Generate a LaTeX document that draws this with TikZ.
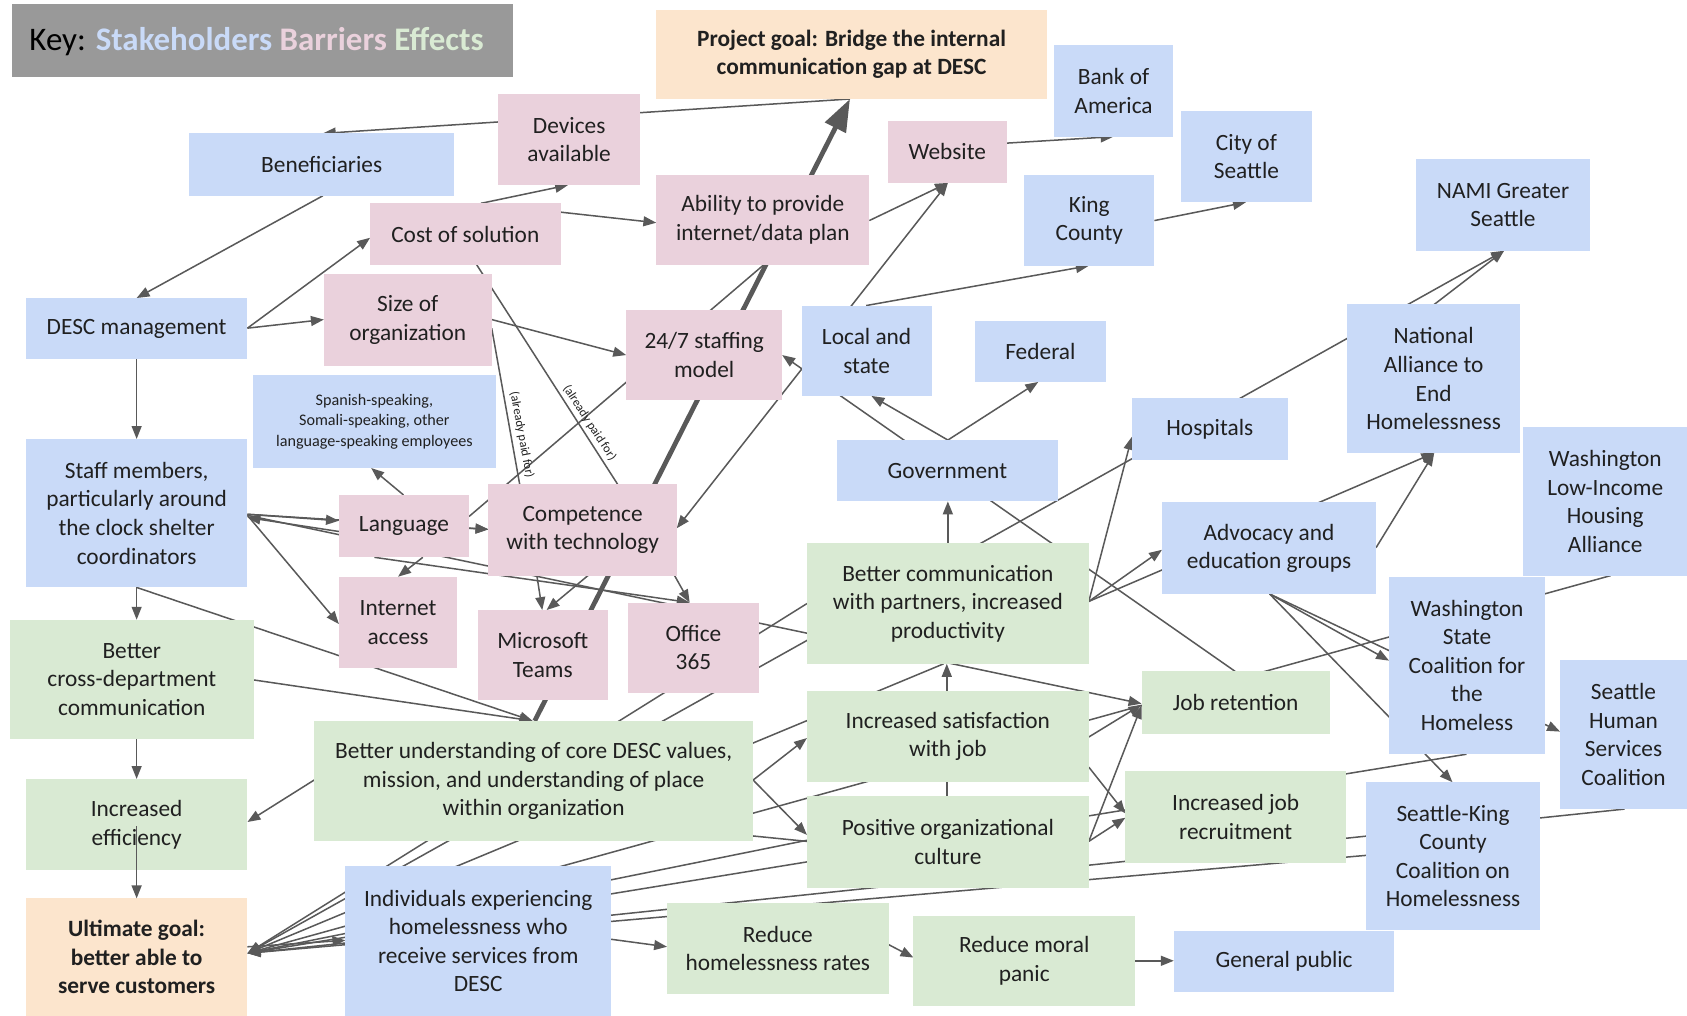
\documentclass[tikz,border=0pt]{standalone}
\usepackage{fontspec}
\setmainfont{Carlito}
\usetikzlibrary{arrows.meta,calc}
\definecolor{cblue}{HTML}{C9DAF8}
\definecolor{cpink}{HTML}{EAD1DC}
\definecolor{cgreen}{HTML}{D9EAD3}
\definecolor{cpeach}{HTML}{FCE5CD}
\definecolor{cgray}{HTML}{999999}
\definecolor{cline}{HTML}{595959}
\definecolor{ctext}{HTML}{202020}
\pgfdeclarelayer{background}
\pgfsetlayers{background,main}
\newcommand\mybox[7]{\node[#6, minimum width={(#4-#2)*0.5pt}, minimum height={(#5-#3)*0.5pt}] (#1) at ({(#2+#4)/2},{(#3+#5)/2}) {#7};}
\begin{document}
\begin{tikzpicture}[x=0.5pt,y=-0.5pt,
  box/.style={rectangle, inner sep=0pt, outer sep=0pt, align=center, text=ctext, font=\fontsize{10.85}{13.25}\selectfont},
  sh/.style={box, fill=cblue},
  br/.style={box, fill=cpink},
  ef/.style={box, fill=cgreen},
  gl/.style={box, fill=cpeach, font=\bfseries\fontsize{10.85}{13.25}\selectfont},
  ar/.style={draw=cline, line width=0.7pt, -{Triangle[length=6pt,width=4.6pt]}},
  ar2/.style={draw=cline, line width=0.7pt, {Triangle[length=6pt,width=4.6pt]}-{Triangle[length=6pt,width=4.6pt]}},
  ln/.style={draw=cline, line width=0.7pt},
  tar/.style={draw=cline, line width=2.2pt, -{Triangle[length=15pt,width=10.5pt]}},
  lbl/.style={font=\fontsize{5.8}{7}\selectfont, inner sep=0.5pt, text=ctext}]
\useasboundingbox (0,0) rectangle (1568,944);
% key
\mybox{key}{11}{4}{477}{72}{box,fill=cgray}{}
\node[anchor=west, inner sep=0pt, font=\fontsize{15.3}{18}\selectfont] (keytext) at (27,39) {Key: \textbf{\textcolor{cblue}{Stakeholders} \textcolor{cpink}{Barriers} \textcolor{cgreen}{Effects}}};
% goals
\mybox{pg}{610}{9}{973}{92}{gl}{Project goal: Bridge the internal\\communication gap at DESC}
\mybox{ug}{24}{835}{230}{944}{gl}{Ultimate goal:\\better able to\\serve customers}
% stakeholders
\mybox{ben}{176}{124}{422}{182}{sh}{Beneficiaries}
\mybox{boa}{980}{42}{1090}{127}{sh}{Bank of\\America}
\mybox{cos}{1098}{103}{1219}{188}{sh}{City of\\Seattle}
\mybox{king}{952}{163}{1073}{247}{sh}{King\\County}
\mybox{nami}{1316}{148}{1478}{233}{sh}{NAMI Greater\\Seattle}
\mybox{desc}{24}{277}{230}{334}{sh}{DESC management}
\mybox{local}{745}{284}{866}{368}{sh}{Local and\\state}
\mybox{fed}{906}{298}{1028}{355}{sh}{Federal}
\mybox{span}{235}{349}{461}{435}{sh,font=\fontsize{7.5}{9.5}\selectfont}{Spanish-speaking,\\Somali-speaking, other\\language-speaking employees}
\mybox{staff}{24}{408}{230}{546}{sh}{Staff members,\\particularly around\\the clock shelter\\coordinators}
\mybox{gov}{778}{409}{983}{466}{sh}{Government}
\mybox{hosp}{1052}{370}{1197}{428}{sh}{Hospitals}
\mybox{na}{1252}{283}{1413}{421}{sh}{National\\Alliance to\\End\\Homelessness}
\mybox{wlih}{1416}{397}{1568}{535}{sh}{Washington\\Low-Income\\Housing\\Alliance}
\mybox{adv}{1080}{467}{1279}{552}{sh}{Advocacy and\\education groups}
\mybox{wsc}{1291}{536}{1436}{701}{sh}{Washington\\State\\Coalition for\\the\\Homeless}
\mybox{shs}{1450}{613}{1568}{752}{sh}{Seattle\\Human\\Services\\Coalition}
\mybox{skc}{1270}{727}{1431}{864}{sh}{Seattle-King\\County\\Coalition on\\Homelessness}
\mybox{gp}{1091}{865}{1296}{922}{sh}{General public}
\mybox{ind}{321}{805}{568}{944}{sh}{Individuals experiencing\\homelessness who\\receive services from\\DESC}
% barriers
\mybox{dev}{463}{87}{595}{172}{br}{Devices\\available}
\mybox{cost}{344}{189}{521}{246}{br}{Cost of solution}
\mybox{abil}{610}{163}{808}{246}{br}{Ability to provide\\internet/data plan}
\mybox{web}{825}{112}{936}{170}{br}{Website}
\mybox{size}{301}{255}{457}{340}{br}{Size of\\organization}
\mybox{stf}{582}{288}{727}{372}{br}{24/7 staffing\\model}
\mybox{lang}{315}{460}{436}{518}{br}{Language}
\mybox{comp}{454}{450}{629}{535}{br}{Competence\\with technology}
\mybox{inet}{315}{536}{425}{621}{br}{Internet\\access}
\mybox{teams}{444}{567}{565}{651}{br}{Microsoft\\Teams}
\mybox{off}{584}{560}{705}{644}{br}{Office\\365}
% effects
\mybox{bc}{750}{505}{1012}{617}{ef}{Better communication\\with partners, increased\\productivity}
\mybox{cross}{9}{576}{236}{687}{ef}{Better\\cross-department\\communication}
\mybox{jr}{1061}{624}{1236}{682}{ef}{Job retention}
\mybox{sat}{750}{642}{1012}{727}{ef}{Increased satisfaction\\with job}
\mybox{bu}{292}{670}{700}{782}{ef}{Better understanding of core DESC values,\\mission, and understanding of place\\within organization}
\mybox{eff}{24}{724}{230}{809}{ef}{Increased\\efficiency}
\mybox{pos}{750}{740}{1012}{825}{ef}{Positive organizational\\culture}
\mybox{rec}{1046}{717}{1251}{802}{ef}{Increased job\\recruitment}
\mybox{rhr}{620}{839}{826}{924}{ef}{Reduce\\homelessness rates}
\mybox{rmp}{849}{851}{1055}{935}{ef}{Reduce moral\\panic}
% connector labels
\node[lbl, rotate=-79.4] (lbla) at (485,404) {(already paid for)};
\node[lbl, rotate=-57] (lblb) at (548,393) {(already paid for)};

\begin{pgfonlayer}{background}
\fill[white] (0,0) rectangle (1568,944);
% top left
\draw[ar] (pg.south -| 790,0) -- (ben.north -| 300,0);
\draw[ar] (ben.south -| 300,0) -- (desc.north -| 127,0);
\draw[ar] (desc.east |- 0,305) -- (cost.west |- 0,221);
\draw[ar] (desc.east |- 0,305) -- (size.west |- 0,297);
\draw[ar] (desc.south -| 127,0) -- (staff.north -| 127,0);
\draw[ar] (cost.north -| 447,0) -- (dev.south -| 528,0);
\draw[ar] (cost.north -| 447,0) -- (abil.west |- 0,207);
\draw[ar] (size.east |- 0,297) -- (stf.west |- 0,330);
\draw[ln] (cost.south -| 443,0) -- (comp.north -| 574,0);
\draw[ln] (size.east |- 0,305) -- (comp.north -| 483,0);
% language / competence cluster
\draw[ar] (lang.east |- 0,491) -- (comp.west |- 0,492);
\draw[ar] (lang.north -| 375,0) -- (span.south -| 345,0);
\draw[ar] (staff.east |- 0,478) -- (lang.west |- 0,484);
\draw[ar] (lang.west |- 0,494) -- (staff.east |- 0,481);
\draw[ar] (staff.east |- 0,478) -- (comp.west |- 0,492);
\draw[ar] (lang.south -| 393,0) -- (inet.north -| 370,0);
\draw[ar] (staff.east |- 0,479) -- (inet.west |- 0,580);
\draw[ar] (staff.south -| 127,0) -- (cross.north -| 127,0);
\draw[ar] (staff.south -| 127,0) -- (bu.north -| 495,0);
\draw[ar] (cross.east |- 0,632) -- (bu.north -| 495,0);
\draw[ar] (cross.south -| 127,0) -- (eff.north -| 127,0);
\draw[ar] (bu.west |- 0,725) -- (eff.east |- 0,764);
\draw[ar] (staff.east |- 0,479) -- (jr.west |- 0,654);
\draw[ar] (lang.south -| 348,0) -- (off.north -| 641,0);
\draw[ar] (comp.south -| 499,0) -- (teams.north -| 504,0);
\draw[ar] ($(comp.center)+(50,5)$) -- (teams.north -| 508,0);
\draw[ar] (comp.south -| 627,0) -- (off.north -| 641,0);
\draw[ln] (lang.east |- 0,480) -- (abil.south -| 710,0);
\draw[ar2] (web.south -| 881,0) -- (comp.east |- 0,491);
\draw[ar] (abil.east |- 0,205) -- (web.south -| 881,0);
% top right
\draw[ar] (local.north -| 805,0) -- (king.south -| 1012,0);
\draw[ar] (web.east |- 0,133) -- (boa.south -| 1035,0);
\draw[ar] (king.east |- 0,205) -- (cos.south -| 1158,0);
\draw[ar] (jr.north -| 1148,0) -- (stf.east |- 0,330);
\draw[ar] (gov.north -| 881,0) -- (local.south -| 810,0);
\draw[ar] (gov.north -| 881,0) -- (fed.south -| 965,0);
\draw[ar] (bc.north -| 881,0) -- (gov.south -| 881,0);
\draw[ar] (bc.east |- 0,559) -- (hosp.west |- 0,406);
\draw[ar] (bc.east |- 0,559) -- (adv.west |- 0,511);
\draw[ar] (bc.east |- 0,559) -- (na.south -| 1333,0);
\draw[ar] (adv.east |- 0,509) -- (na.south -| 1333,0);
\draw[ar] (na.north -| 1333,0) -- (nami.south -| 1398,0);
\draw[ar] (adv.south -| 1180,0) -- (wsc.west |- 0,614);
\draw[ar] (adv.south -| 1180,0) -- (shs.west |- 0,680);
\draw[ar] (adv.south -| 1180,0) -- (skc.north -| 1350,0);
% long lines to the ultimate goal
\draw[ar2] (ug.east |- 0,886) -- (nami.south -| 1398,0);
\draw[ar] (bc.west |- 0,561) -- (ug.east |- 0,886);
\draw[ar] (bc.south -| 877,0) -- (ug.east |- 0,886);
\draw[ar] (wlih.south -| 1497,0) -- (ug.east |- 0,886);
\draw[ar] (wsc.south -| 1363,0) -- (ug.east |- 0,886);
\draw[ar] (shs.south -| 1510,0) -- (ug.east |- 0,886);
\draw[ar] (skc.west |- 0,795) -- (ug.east |- 0,886);
\draw[ar] (pos.west |- 0,781) -- (ug.east |- 0,886);
\draw[ar] (ug.east |- 0,880) -- (ind.west |- 0,874);
% effects cluster
\draw[ar] (sat.north -| 880,0) -- (bc.south -| 880,0);
\draw[ln] (pos.north -| 880,0) -- (sat.south -| 880,0);
\draw[ar] (bu.east |- 0,725) -- (sat.west |- 0,686);
\draw[ar] (bu.east |- 0,725) -- (pos.west |- 0,776);
\draw[ln] ($(bu.east)+(-30,48)$) -- (pos.west |- 0,782);
\draw[ar] (sat.east |- 0,685) -- (jr.west |- 0,655);
\draw[ar] (sat.east |- 0,713) -- (rec.west |- 0,756);
\draw[ar] (pos.east |- 0,782) -- (jr.west |- 0,656);
\draw[ar] (pos.east |- 0,782) -- (rec.west |- 0,760);
\draw[ar] (ind.east |- 0,873) -- (rhr.west |- 0,880);
\draw[ar] (rhr.east |- 0,878) -- (rmp.west |- 0,890);
\draw[ar] (rmp.east |- 0,893) -- (gp.west |- 0,893);
% thick main arrow
\draw[tar] (bu.north -| 497,0) -- (pg.south -| 790,0);
\end{pgfonlayer}
\draw[ar] (eff.south |- 0,768) -- (ug.north -| 127,0);
\end{tikzpicture}
\end{document}
